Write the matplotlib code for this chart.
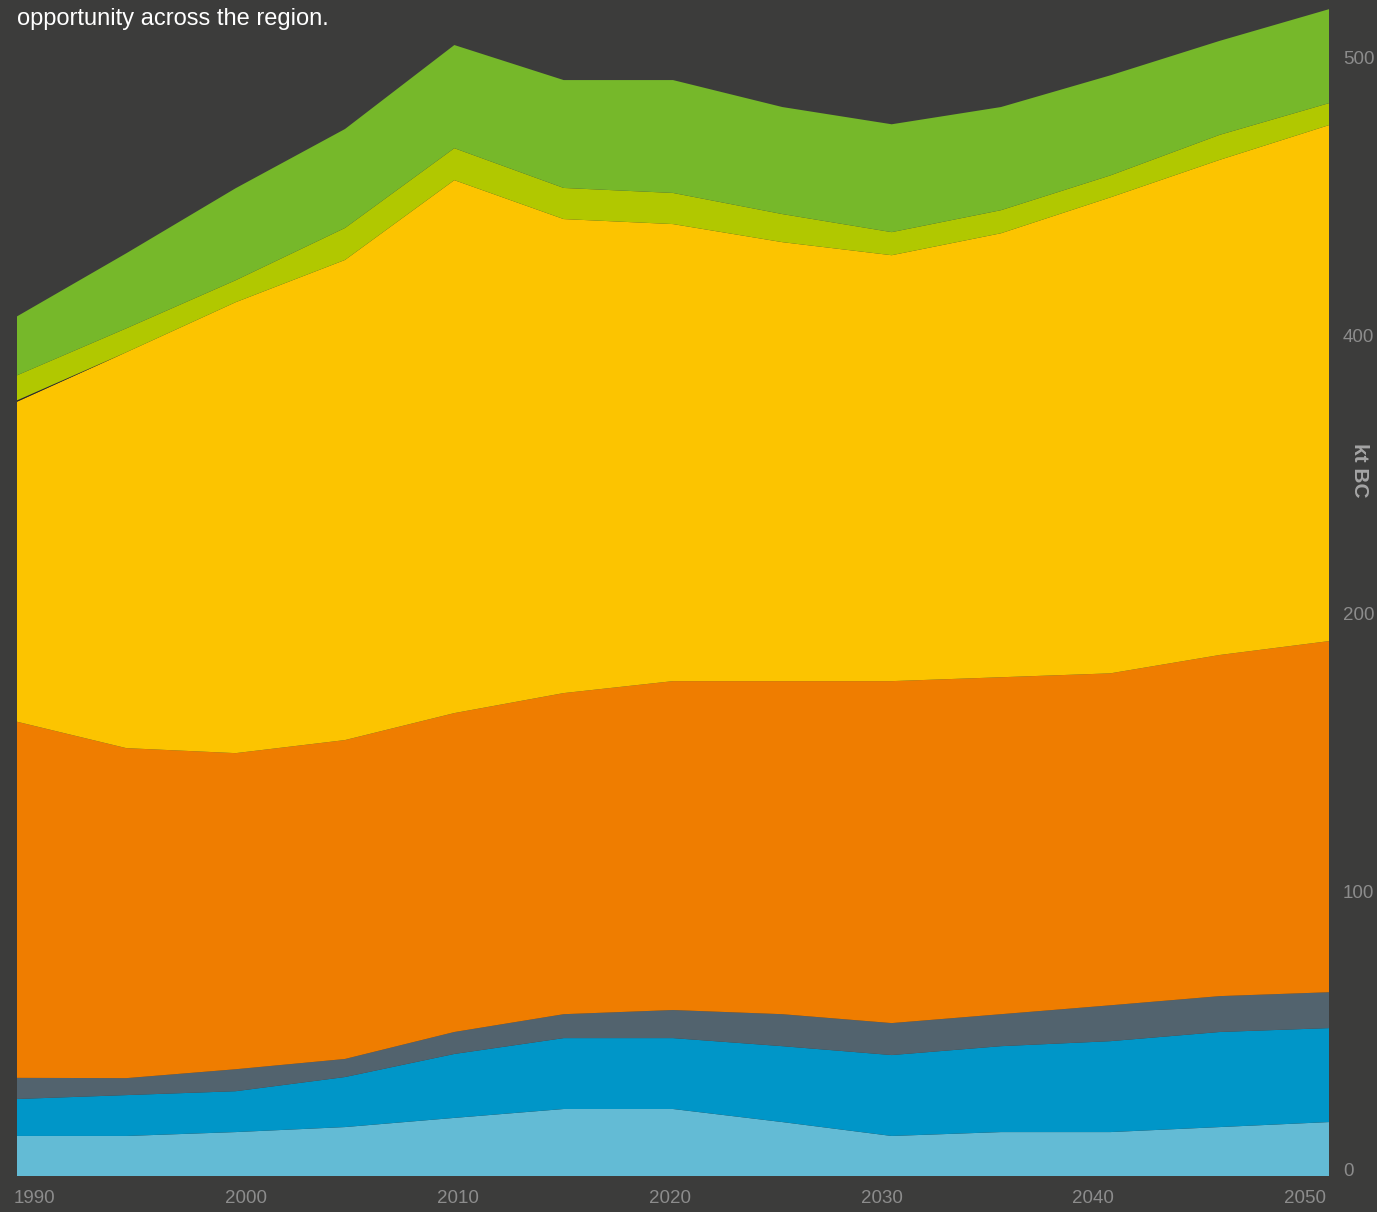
import numpy as np
import matplotlib
matplotlib.use("Agg")
import matplotlib.pyplot as plt
from matplotlib.transforms import ScaledTranslation

# data (kt BC, stacked bottom -> top)
years = [1990, 1995, 2000, 2005, 2010, 2015, 2020, 2025, 2030, 2035, 2040, 2045, 2050]
light_blue = [14.4, 14.4, 15.8, 17.6, 20.9, 24.1, 24.1, 19.4, 14.4, 15.8, 15.8, 17.6, 19.4]
blue = [13.3, 14.7, 14.7, 18.0, 23.0, 25.5, 25.5, 27.3, 29.1, 30.9, 32.7, 34.2, 33.8]
slate = [7.6, 6.1, 7.9, 6.5, 7.9, 8.6, 10.1, 11.5, 11.5, 11.5, 12.9, 12.9, 12.9]
orange = [128.1, 118.7, 113.7, 114.7, 114.7, 115.5, 118.3, 119.8, 123.0, 121.2, 119.4, 122.7, 126.3]
yellow = [115.1, 142.4, 162.2, 172.7, 191.7, 170.5, 164.4, 157.9, 153.2, 159.7, 171.2, 178.1, 185.6]
dark = [0.5, 0, 0, 0, 0, 0, 0, 0, 0, 0, 0, 0, 0]
lime = [9.0, 8.6, 7.9, 11.5, 11.5, 11.2, 11.2, 10.1, 8.3, 8.3, 7.9, 9.0, 7.9]
green = [21.2, 27.0, 33.1, 35.6, 37.1, 38.8, 40.6, 38.5, 38.8, 37.1, 36.0, 33.8, 33.8]

colors = ['#63bbd5', '#0096c8', '#52636e', '#ef7d00', '#fcc400', '#2a2a2a', '#b1c800', '#76b82a']

xtick_labels = ['1990', '2000', '2010', '2020', '2030', '2040', '2050']
ytick_vals = [0, 100, 200, 300, 400]
ytick_labels = ['0', '100', '200', '400', '500']

bg = '#3c3c3b'
W, H = 1377, 1212
fig = plt.figure(figsize=(W / 100, H / 100), dpi=100, facecolor=bg)
ax = fig.add_axes([17 / W, (H - 1176) / H, (1329 - 17) / W, 1176 / H])
ax.set_facecolor(bg)

ax.stackplot(years, light_blue, blue, slate, orange, yellow, dark, lime, green,
             colors=colors, linewidth=0)

ax.set_xlim(1990, 2050)
ax.set_ylim(0, 423)

for s in ax.spines.values():
    s.set_visible(False)

tickfont = ['Liberation Sans', 'DejaVu Sans']
ax.set_xticks(np.linspace(1990.8, 2048.9, len(xtick_labels)))
ax.set_xticklabels(xtick_labels, family=tickfont, fontsize=13.5, color='#8c8c8c')
ax.tick_params(axis='x', length=0, pad=10)

ax.yaxis.tick_right()
ax.set_yticks(ytick_vals)
ax.set_yticklabels(ytick_labels, family=tickfont, fontsize=13.5, color='#8c8c8c')
ax.tick_params(axis='y', length=0, pad=10)
for lab in ax.get_yticklabels():
    lab.set_transform(lab.get_transform() + ScaledTranslation(0, 6 / 100, fig.dpi_scale_trans))

fig.text(1360 / W, 1 - 470 / H, 'kt BC', rotation=270, ha='center', va='center',
         family=tickfont, fontsize=15, fontweight='bold', color='#a5a5a5')

fig.text(17 / W, 1 - 25 / H, 'opportunity across the region.', ha='left', va='baseline',
         family=['Liberation Sans', 'DejaVu Sans'], fontsize=17, color='white')

fig.savefig('out.png', dpi=100, facecolor=bg)
